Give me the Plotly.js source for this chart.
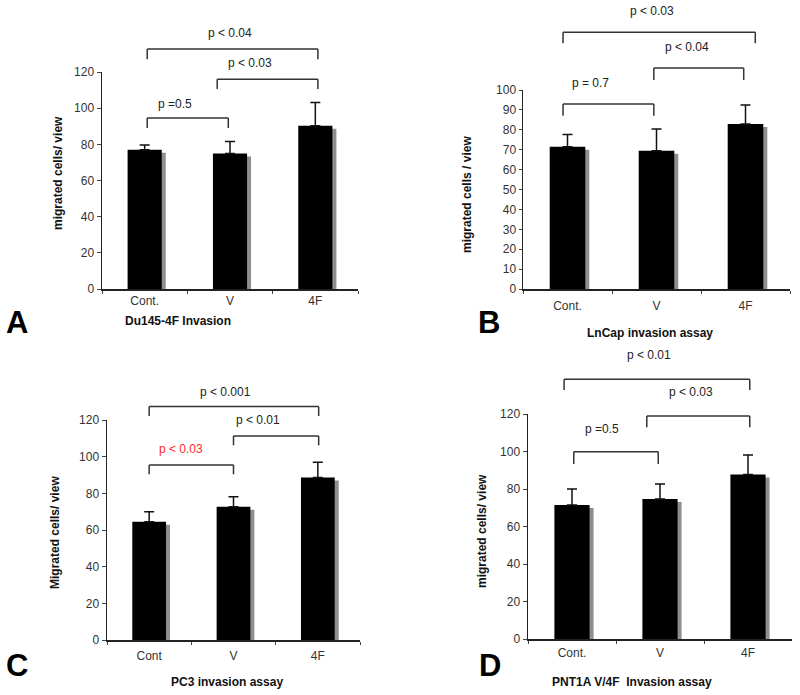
<!DOCTYPE html>
<html><head><meta charset="utf-8">
<script src="https://cdn.plot.ly/plotly-3.0.1.min.js"></script>
<style>html,body{margin:0;padding:0;background:#fff}</style>
</head><body><div id="chart" style="width:800px;height:695px"></div>
<script>
// ---------------- data ----------------
const categoriesA = ['Cont.', 'V', '4F'];
const categoriesB = ['Cont.', 'V', '4F'];
const categoriesC = ['Cont', 'V', '4F'];
const categoriesD = ['Cont.', 'V', '4F'];

const meanA = [77.0, 75.0, 90.3];
const errA  = [2.7, 6.5, 12.9];
const meanB = [71.5, 69.5, 82.9];
const errB  = [6.2, 10.9, 9.6];
const meanC = [64.5, 72.7, 88.7];
const errC  = [5.5, 5.5, 8.2];
const meanD = [71.5, 74.7, 87.8];
const errD  = [8.5, 8.0, 10.3];

const yTicksA = [0, 20, 40, 60, 80, 100, 120];
const yTicksB = [0, 10, 20, 30, 40, 50, 60, 70, 80, 90, 100];
const yTicksC = [0, 20, 40, 60, 80, 100, 120];
const yTicksD = [0, 20, 40, 60, 80, 100, 120];

// significance brackets (category index positions, values)
const bracketFromA = [0.03, 0.85, 0.03];
const bracketToA   = [0.98, 2.03, 2.03];
const bracketTopA  = [94.6, 116.0, 132.7];
const bracketLegA  = [89.0, 110.6, 127.0];
const pTextA = ['p =0.5', 'p < 0.03', 'p < 0.04'];
const pXA = [0.355, 1.23, 1.0];
const pYA = [102.3, 125.0, 141.6];

const bracketFromB = [-0.05, 0.97, -0.05];
const bracketToB   = [0.97, 1.98, 2.11];
const bracketTopB  = [93.0, 111.0, 129.0];
const bracketLegB  = [87.0, 105.0, 123.5];
const pTextB = ['p = 0.7', 'p < 0.04', 'p < 0.03'];
const pXB = [0.264, 1.34, 0.95];
const pYB = [103.5, 121.6, 139.7];

const bracketFromC = [0.0, 1.0, 0.0];
const bracketToC   = [1.0, 2.01, 2.01];
const bracketTopC  = [95.5, 111.3, 127.3];
const bracketLegC  = [90.4, 106.2, 122.2];
const pTextC = ['p < 0.03', 'p < 0.01', 'p < 0.001'];
const pXC = [0.38, 1.29, 0.9];
const pYC = [104.2, 120.0, 135.3];
const pColorC = ['#ff2a2a', '#222', '#222'];

const bracketFromD = [0.02, 0.85, -0.09];
const bracketToD   = [0.98, 2.02, 2.02];
const bracketTopD  = [99.9, 119.0, 138.5];
const bracketLegD  = [93.3, 113.0, 132.8];
const pTextD = ['p =0.5', 'p < 0.03', 'p < 0.01'];
const pXD = [0.34, 1.35, 0.875];
const pYD = [112.0, 131.7, 151.5];

const yTitleA = 'migrated cells/ view';
const yTitleB = 'migrated cells / view';
const yTitleC = 'Migrated cells/ view';
const yTitleD = 'migrated cells/ view';
const titleA = 'Du145-4F Invasion';
const titleB = 'LnCap invasion assay';
const titleC = 'PC3 invasion assay';
const titleD = 'PNT1A V/4F&nbsp;&nbsp;Invasion assay';
const letters = ['A', 'B', 'C', 'D'];

// ---------------- layout helpers ----------------
const W = 800, H = 695;
const FONT = 'Liberation Sans, Arial, sans-serif';
const px = x => x / W;
const py = y => 1 - y / H;

const panels = [
  {cats: categoriesA, mean: meanA, err: errA, ticks: yTicksA, R: 120,
   bf: bracketFromA, bt: bracketToA, btop: bracketTopA, bleg: bracketLegA,
   pt: pTextA, px: pXA, py: pYA, pc: ['#222','#222','#222'],
   xpx: [102, 358], ypx: [289, 72], ytitle: yTitleA, ytpos: [58, 173],
   title: titleA, tpos: [178, 321], letter: letters[0], lpos: [17, 322], standoff: 0, ticklen: 4},
  {cats: categoriesB, mean: meanB, err: errB, ticks: yTicksB, R: 100,
   bf: bracketFromB, bt: bracketToB, btop: bracketTopB, bleg: bracketLegB,
   pt: pTextB, px: pXB, py: pYB, pc: ['#222','#222','#222'],
   xpx: [523, 790], ypx: [289, 90], ytitle: yTitleB, ytpos: [467, 195],
   title: titleB, tpos: [650, 333], letter: letters[1], lpos: [489, 322], standoff: 5, ticklen: 3},
  {cats: categoriesC, mean: meanC, err: errC, ticks: yTicksC, R: 120,
   bf: bracketFromC, bt: bracketToC, btop: bracketTopC, bleg: bracketLegC,
   pt: pTextC, px: pXC, py: pYC, pc: pColorC,
   xpx: [107, 360], ypx: [640, 420], ytitle: yTitleC, ytpos: [55, 533],
   title: titleC, tpos: [227, 682], letter: letters[2], lpos: [17, 665], standoff: 4, ticklen: 4},
  {cats: categoriesD, mean: meanD, err: errD, ticks: yTicksD, R: 120,
   bf: bracketFromD, bt: bracketToD, btop: bracketTopD, bleg: bracketLegD,
   pt: pTextD, px: pXD, py: pYD, pc: ['#222','#222','#222'],
   xpx: [528, 792], ypx: [639, 414], ytitle: yTitleD, ytpos: [482, 531],
   title: titleD, tpos: [632, 682], letter: letters[3], lpos: [490, 665], standoff: 2, ticklen: 4}
];

const data = [];
const layout = {
  width: W, height: H, margin: {l: 0, r: 0, t: 0, b: 0},
  paper_bgcolor: '#fff', plot_bgcolor: 'rgba(0,0,0,0)',
  showlegend: false, barmode: 'overlay',
  font: {family: FONT, color: '#222', size: 12},
  shapes: [], annotations: []
};

panels.forEach((p, i) => {
  const n = i === 0 ? '' : String(i + 1);
  const xa = 'x' + n, ya = 'y' + n;
  const catW = (p.xpx[1] - p.xpx[0]) / 3;           // px per category
  const pxPerUnit = (p.ypx[0] - p.ypx[1]) / p.R;     // px per value unit
  const shX = 4 / catW, shDrop = 3 / pxPerUnit;

  // shadow
  data.push({type: 'bar', x: p.cats, y: p.mean, base: -shDrop, xaxis: xa, yaxis: ya,
    width: 0.4, offset: -0.2 + shX, marker: {color: '#8f8f8f', line: {width: 0}}, hoverinfo: 'skip'});
  // main bars
  data.push({type: 'bar', x: p.cats, y: p.mean, xaxis: xa, yaxis: ya,
    width: 0.4, offset: -0.2, marker: {color: '#000', line: {width: 0}},
    error_y: {type: 'data', symmetric: false, array: p.err, arrayminus: p.err.map(() => 0),
      color: '#111', thickness: 1.5, width: 5}});

  layout['xaxis' + n] = {
    domain: [px(p.xpx[0]), px(p.xpx[1])], anchor: ya, type: 'category',
    range: [-0.5, 2.5], showline: true, linecolor: '#222', linewidth: 1.5,
    ticks: 'outside', tickson: 'boundaries', ticklen: 3, tickcolor: '#444', tickwidth: 1,
    showgrid: false, zeroline: false, fixedrange: true,
    tickfont: {family: FONT, size: 12, color: '#333'}, ticklabelstandoff: p.standoff
  };
  layout['yaxis' + n] = {
    domain: [py(p.ypx[0]), py(p.ypx[1])], anchor: xa,
    range: [0, p.R], showline: true, linecolor: '#222', linewidth: 1.5,
    ticks: 'outside', ticklen: p.ticklen, tickcolor: '#444', tickwidth: 1,
    tickvals: p.ticks, ticktext: p.ticks.map(String),
    showgrid: false, zeroline: false, fixedrange: true,
    tickfont: {family: FONT, size: 12, color: '#333'}
  };

  const fx = v => (v + 0.5) / 3;   // category position -> domain fraction
  const fy = v => v / p.R;         // value -> domain fraction
  const xr = xa + ' domain', yr = ya + ' domain';
  const ln = {color: '#333', width: 1.5};
  for (let k = 0; k < p.bf.length; k++) {
    layout.shapes.push({type: 'line', xref: xr, yref: yr, x0: fx(p.bf[k]), x1: fx(p.bt[k]), y0: fy(p.btop[k]), y1: fy(p.btop[k]), line: ln});
    layout.shapes.push({type: 'line', xref: xr, yref: yr, x0: fx(p.bf[k]), x1: fx(p.bf[k]), y0: fy(p.btop[k]), y1: fy(p.bleg[k]), line: ln});
    layout.shapes.push({type: 'line', xref: xr, yref: yr, x0: fx(p.bt[k]), x1: fx(p.bt[k]), y0: fy(p.btop[k]), y1: fy(p.bleg[k]), line: ln});
    layout.annotations.push({xref: xr, yref: yr, x: fx(p.px[k]), y: fy(p.py[k]), text: p.pt[k],
      showarrow: false, xanchor: 'center', yanchor: 'middle',
      font: {family: FONT, size: 12, color: p.pc[k]}});
  }
  // y title
  layout.annotations.push({xref: 'paper', yref: 'paper', x: px(p.ytpos[0]), y: py(p.ytpos[1]),
    text: '<b>' + p.ytitle + '</b>', textangle: -90, showarrow: false,
    xanchor: 'center', yanchor: 'middle', font: {family: FONT, size: 12, color: '#111'}});
  // panel title
  layout.annotations.push({xref: 'paper', yref: 'paper', x: px(p.tpos[0]), y: py(p.tpos[1]),
    text: '<b>' + p.title + '</b>', showarrow: false,
    xanchor: 'center', yanchor: 'middle', font: {family: FONT, size: 12, color: '#111'}});
  // letter
  layout.annotations.push({xref: 'paper', yref: 'paper', x: px(p.lpos[0]), y: py(p.lpos[1]),
    text: '<b>' + p.letter + '</b>', showarrow: false,
    xanchor: 'center', yanchor: 'middle', font: {family: FONT, size: 31, color: '#000'}});
});

Plotly.newPlot('chart', data, layout, {displayModeBar: false, staticPlot: true});
</script>
</body></html>
